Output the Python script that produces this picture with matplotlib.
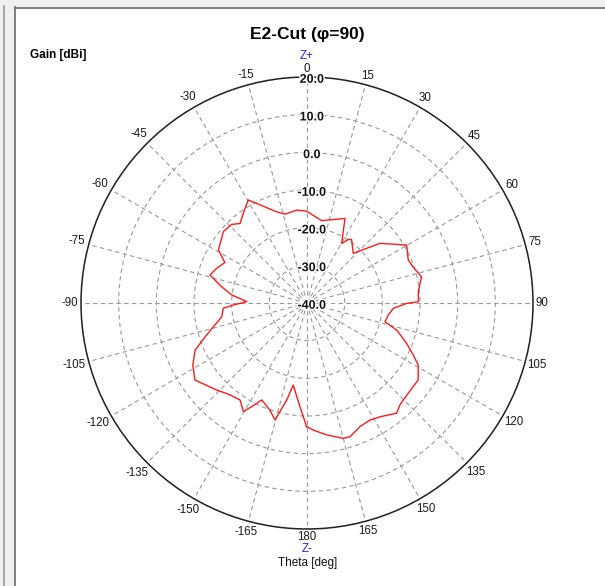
"""
E2-Cut polar gain pattern (phi = 90), matplotlib only.
"""

import matplotlib
matplotlib.use("Agg")
import matplotlib.pyplot as plt
import matplotlib.patches as mpatches
import matplotlib.patheffects as pe
import numpy as np

plt.rcParams["font.family"] = ["Liberation Sans", "DejaVu Sans"]

W, H = 605, 586

# theta [deg] and gain [dBi]
THETA = [-179.8, -176.1, -170.5, -168.2, -164.7, -160.9, -155.0, -151.9,
         -149.6, -145.4, -140.1, -133.9, -124.5, -118.5, -112.8, -107.7,
         -99.1, -93.6, -91.6, -88.7, -83.9, -79.2, -73.9, -69.0, -63.8,
         -59.1, -49.5, -43.8, -40.1, -35.4, -29.7, -25.6, -18.4, -13.9,
         -6.3, -0.2, 10.1, 13.3, 18.5, 24.2, 30.2, 33.0, 35.1, 43.0, 47.5,
         50.7, 59.8, 67.0, 71.5, 77.1, 84.2, 89.3, 90.2, 93.5, 98.4, 103.5,
         106.8, 112.0, 116.1, 119.1, 124.7, 131.7, 137.6, 140.9, 147.3,
         151.7, 156.8, 162.2, 165.0, 171.5, 177.1]
GAIN = [-7.2, -12.4, -17.9, -13.7, -7.8, -9.9, -11.6, -8.8,
        -6.6, -8.7, -8.2, -6.7, -3.9, -5.5, -7.8, -12.0,
        -17.1, -17.7, -20.4, -24.0, -19.9, -16.9, -13.2, -14.3, -15.7,
        -12.6, -10.8, -11.1, -12.4, -10.8, -8.5, -11.1, -14.5, -15.7,
        -15.2, -15.6, -17.8, -17.4, -16.6, -15.4, -21.7, -19.9, -19.4, -22.0, -18.5,
        -15.0, -9.4, -10.8, -10.2, -8.8, -10.3, -10.4, -13.5, -17.0, -18.2, -18.7,
        -15.1, -11.5, -8.6, -6.2, -4.1, -4.0, -3.4, -2.3, -4.1,
        -4.7, -4.3, -2.7, -2.8, -4.6, -6.2]

R_TICKS = [-40, -30, -20, -10, 0, 10, 20]
THETA_TICKS = list(range(0, 360, 15))
THETA_LABELS = [str(t if t <= 180 else t - 360) for t in THETA_TICKS]


def px(x, y):
    """pixel (from top-left) -> figure fraction"""
    return x / W, 1 - y / H


fig = plt.figure(figsize=(W / 100, H / 100), dpi=100)
fig.patch.set_facecolor("white")

# window frame
grey = "#f0f0f0"
fig.patches.append(mpatches.Rectangle((0, 1 - 7 / H), 1, 7 / H, transform=fig.transFigure,
                                      facecolor=grey, edgecolor="none", zorder=0))
fig.patches.append(mpatches.Rectangle((0, 0), 15 / W, 1, transform=fig.transFigure,
                                      facecolor=grey, edgecolor="none", zorder=0))
fig.add_artist(plt.Line2D([3.5 / W, 3.5 / W], [0, 1 - 6 / H], transform=fig.transFigure,
                          color="#9a9a9a", lw=1.2))
fig.add_artist(plt.Line2D([14.5 / W, 14.5 / W], [0, 1 - 7 / H], transform=fig.transFigure,
                          color="#6a6a6a", lw=1.2))
fig.add_artist(plt.Line2D([14.5 / W, 1], [1 - 7.5 / H, 1 - 7.5 / H], transform=fig.transFigure,
                          color="#6a6a6a", lw=1.2))

cx, cy, rad = 307, 303, 226
ax = fig.add_axes([(cx - rad) / W, (H - cy - rad) / H, 2 * rad / W, 2 * rad / H],
                  projection="polar")
ax.set_theta_zero_location("N")
ax.set_theta_direction(-1)
ax.set_ylim(-40, 20)
ax.set_rticks(R_TICKS)
ax.set_yticklabels([])
ax.set_thetagrids(THETA_TICKS, [""] * len(THETA_TICKS))
ax.grid(True, color="#999999", lw=0.8, ls=(0, (4, 3)))
ax.spines["polar"].set_color("#222222")
ax.spines["polar"].set_linewidth(1.1)

th = np.deg2rad(THETA + [THETA[0]])
ax.plot(th, GAIN + [GAIN[0]], color="#ff1a1a", lw=1.0, zorder=5)

# angle labels just outside the rim
for t, lab in zip(THETA_TICKS, THETA_LABELS):
    a = np.deg2rad(t)
    w = 5.0 * len(lab)
    d = 4.0 + 0.5 * abs(np.sin(a)) * w + 0.5 * abs(np.cos(a)) * 8.5
    d *= 0.72  # px -> points
    ax.annotate(lab, xy=(a, 20), xytext=(d * np.sin(a), d * np.cos(a)),
                textcoords="offset points", ha="center", va="center",
                fontsize=8.3, color="#1a1a1a", annotation_clip=False)

for r in R_TICKS:
    ax.annotate(f"{r:.1f}", xy=(0, r), xytext=(3.5, -2), textcoords="offset points",
                ha="center", va="center", fontsize=9, fontweight="bold", color="#111111",
                zorder=6, path_effects=[pe.withStroke(linewidth=2, foreground="white")])

fig.text(*px(307, 35), "E2-Cut (\u03c6=90)", ha="center", va="center",
         fontsize=12.5, fontweight="bold")
fig.text(*px(30, 55), "Gain [dBi]", ha="left", va="center", fontsize=8.5, fontweight="bold")
fig.text(*px(307, 56), "Z+", ha="center", va="center", fontsize=8.3, color="#2020ff")
fig.text(*px(307, 549.5), "Z-", ha="center", va="center", fontsize=8.3, color="#2020ff")
fig.text(*px(308, 563), "Theta [deg]", ha="center", va="center", fontsize=8.5, color="#111111")

fig.savefig("out.png", dpi=100, facecolor="white")
plt.close(fig)
